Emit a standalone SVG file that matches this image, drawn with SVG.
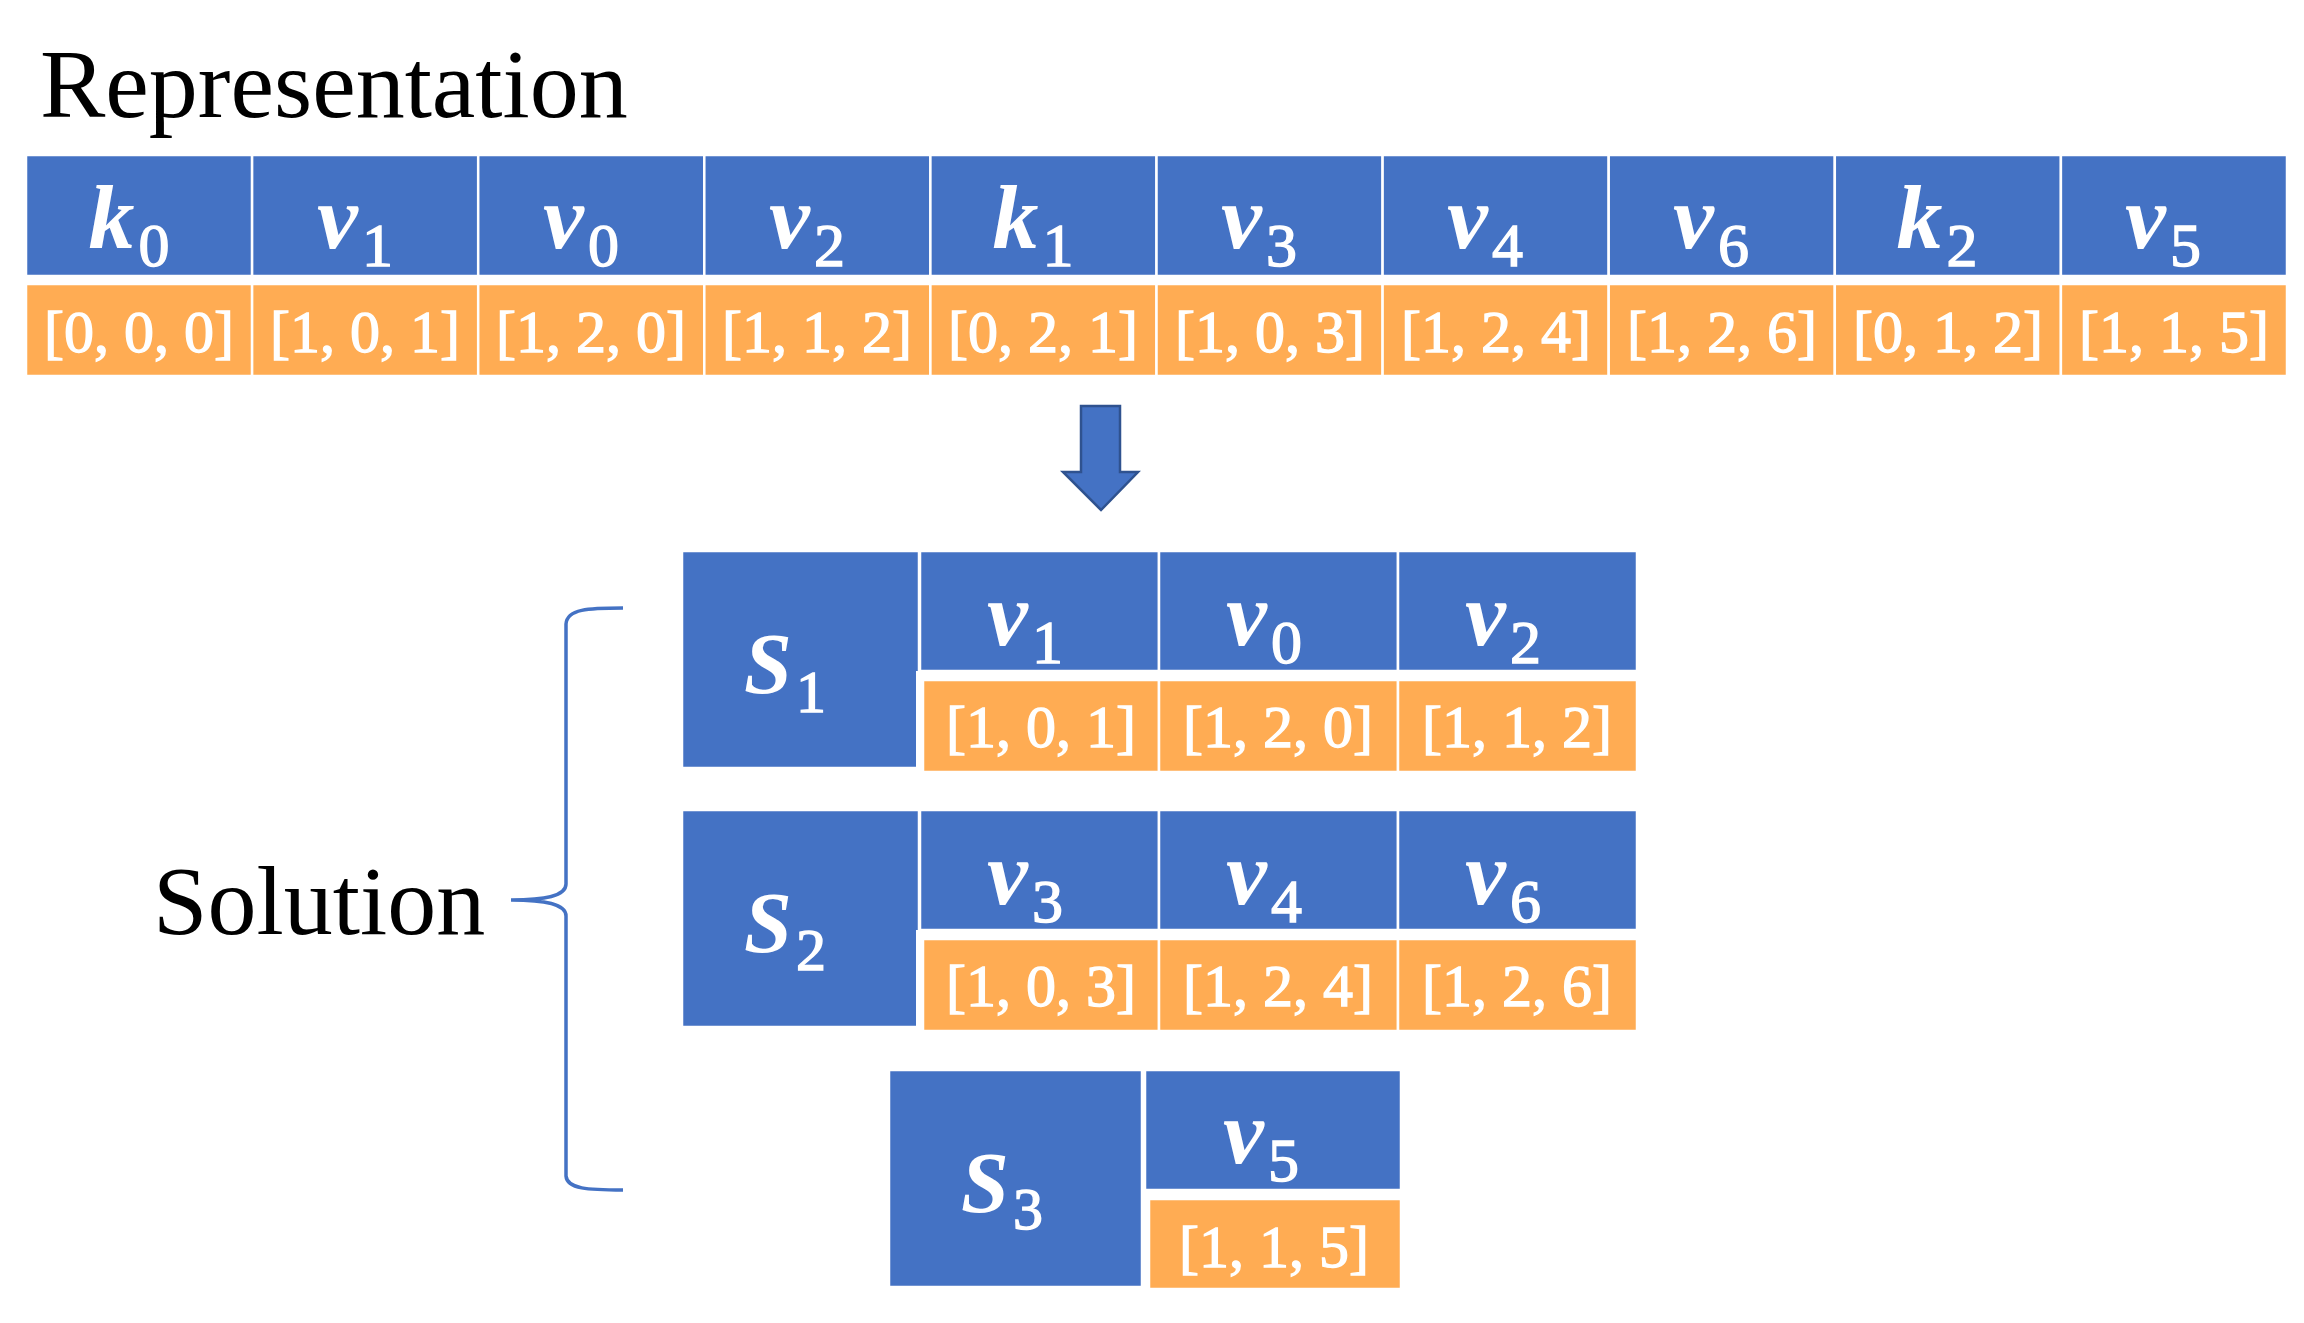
<svg xmlns="http://www.w3.org/2000/svg" width="2304" height="1323" viewBox="0 0 2304 1323">
<style>
.b{fill:#4472C4;stroke:#fff;stroke-width:2.5}
.o{fill:#FFAC53;stroke:#fff;stroke-width:2.5}
.w{fill:#fff}
.m{font-family:"Liberation Serif","Times New Roman",serif;font-style:italic;font-weight:bold;font-size:92px;fill:#fff;text-anchor:middle}
.s{font-family:"Liberation Serif","Times New Roman",serif;font-style:normal;font-weight:normal;font-size:62px;stroke:#fff;stroke-width:1.4}
.ms{font-family:"Liberation Serif","Times New Roman",serif;font-style:italic;font-weight:bold;font-size:86px;fill:#fff;text-anchor:middle}
.ss{font-family:"Liberation Serif","Times New Roman",serif;font-style:normal;font-weight:normal;font-size:60px;stroke:#fff;stroke-width:1.4}
.v{font-family:"Liberation Serif","Times New Roman",serif;font-size:60px;fill:#fff;stroke:#fff;stroke-width:1.3;text-anchor:middle}
.t{font-family:"Liberation Serif","Times New Roman",serif;font-size:98px;fill:#000}
.br{fill:none;stroke:#4472C4;stroke-width:3.5}
.ar{fill:#4472C4;stroke:#2F528F;stroke-width:2.5;stroke-linejoin:miter}
</style>
<rect width="2304" height="1323" fill="#fff"/>
<text id="title" class="t" x="40" y="117">Representation</text>
<text id="solution-label" class="t" x="153" y="934">Solution</text>

<g id="representation">
<g id="rep-0"><rect class="b" x="26" y="155" width="226.1" height="121"/><rect class="o" x="26" y="284" width="226.1" height="92"/><text class="m" x="129" y="248">k<tspan class="s" dx="4" dy="18">0</tspan></text><text class="v" x="139" y="352">[0, 0, 0]</text></g>
<g id="rep-1"><rect class="b" x="252.1" y="155" width="226.1" height="121"/><rect class="o" x="252.1" y="284" width="226.1" height="92"/><text class="m" x="355" y="248">v<tspan class="s" dx="4" dy="18">1</tspan></text><text class="v" x="365" y="352">[1, 0, 1]</text></g>
<g id="rep-2"><rect class="b" x="478.2" y="155" width="226.1" height="121"/><rect class="o" x="478.2" y="284" width="226.1" height="92"/><text class="m" x="581" y="248">v<tspan class="s" dx="4" dy="18">0</tspan></text><text class="v" x="591" y="352">[1, 2, 0]</text></g>
<g id="rep-3"><rect class="b" x="704.3" y="155" width="226.1" height="121"/><rect class="o" x="704.3" y="284" width="226.1" height="92"/><text class="m" x="807" y="248">v<tspan class="s" dx="4" dy="18">2</tspan></text><text class="v" x="817" y="352">[1, 1, 2]</text></g>
<g id="rep-4"><rect class="b" x="930.4" y="155" width="226.1" height="121"/><rect class="o" x="930.4" y="284" width="226.1" height="92"/><text class="m" x="1033" y="248">k<tspan class="s" dx="4" dy="18">1</tspan></text><text class="v" x="1043" y="352">[0, 2, 1]</text></g>
<g id="rep-5"><rect class="b" x="1156.5" y="155" width="226.1" height="121"/><rect class="o" x="1156.5" y="284" width="226.1" height="92"/><text class="m" x="1259" y="248">v<tspan class="s" dx="4" dy="18">3</tspan></text><text class="v" x="1270" y="352">[1, 0, 3]</text></g>
<g id="rep-6"><rect class="b" x="1382.6" y="155" width="226.1" height="121"/><rect class="o" x="1382.6" y="284" width="226.1" height="92"/><text class="m" x="1485" y="248">v<tspan class="s" dx="4" dy="18">4</tspan></text><text class="v" x="1496" y="352">[1, 2, 4]</text></g>
<g id="rep-7"><rect class="b" x="1608.7" y="155" width="226.1" height="121"/><rect class="o" x="1608.7" y="284" width="226.1" height="92"/><text class="m" x="1711" y="248">v<tspan class="s" dx="4" dy="18">6</tspan></text><text class="v" x="1722" y="352">[1, 2, 6]</text></g>
<g id="rep-8"><rect class="b" x="1834.8" y="155" width="226.1" height="121"/><rect class="o" x="1834.8" y="284" width="226.1" height="92"/><text class="m" x="1937" y="248">k<tspan class="s" dx="4" dy="18">2</tspan></text><text class="v" x="1948" y="352">[0, 1, 2]</text></g>
<g id="rep-9"><rect class="b" x="2060.9" y="155" width="226.1" height="121"/><rect class="o" x="2060.9" y="284" width="226.1" height="92"/><text class="m" x="2163" y="248">v<tspan class="s" dx="4" dy="18">5</tspan></text><text class="v" x="2174" y="352">[1, 1, 5]</text></g>
</g>

<g id="connectors">
<path id="down-arrow" class="ar" d="M1081,406 L1120,406 L1120,472 L1138,472 L1101,510 L1063,472 L1081,472 Z"/>
<path id="brace" class="br" d="M623,608 C588,608 567,609 566,624 L566,884 C566,896 545,900 511,900 C545,900 566,904 566,916 L566,1176 C567,1189 588,1190 623,1190"/>
</g>

<g id="s1">
<rect class="b" x="682" y="551" width="237" height="217" stroke="none"/>
<rect class="b" x="920" y="551" width="239" height="120"/><rect class="b" x="1159" y="551" width="239" height="120"/><rect class="b" x="1398" y="551" width="239" height="120"/>
<rect class="w" x="916" y="671" width="721" height="101"/>
<rect class="o" x="923" y="680" width="236" height="92"/><rect class="o" x="1159" y="680" width="239" height="92"/><rect class="o" x="1398" y="680" width="239" height="92"/>
<text class="ms" x="785" y="693">S<tspan class="ss" dx="4" dy="19">1</tspan></text>
<text class="m" x="1025" y="645">v<tspan class="s" dx="4" dy="18">1</tspan></text>
<text class="m" x="1264" y="645">v<tspan class="s" dx="4" dy="18">0</tspan></text>
<text class="m" x="1503" y="645">v<tspan class="s" dx="4" dy="18">2</tspan></text>
<text class="v" x="1041" y="747">[1, 0, 1]</text>
<text class="v" x="1278" y="747">[1, 2, 0]</text>
<text class="v" x="1517" y="747">[1, 1, 2]</text>
</g>

<g id="s2">
<rect class="b" x="682" y="810" width="237" height="217" stroke="none"/>
<rect class="b" x="920" y="810" width="239" height="120"/><rect class="b" x="1159" y="810" width="239" height="120"/><rect class="b" x="1398" y="810" width="239" height="120"/>
<rect class="w" x="916" y="930" width="721" height="101"/>
<rect class="o" x="923" y="939" width="236" height="92"/><rect class="o" x="1159" y="939" width="239" height="92"/><rect class="o" x="1398" y="939" width="239" height="92"/>
<text class="ms" x="785" y="952">S<tspan class="ss" dx="4" dy="18">2</tspan></text>
<text class="m" x="1025" y="904">v<tspan class="s" dx="4" dy="18">3</tspan></text>
<text class="m" x="1264" y="904">v<tspan class="s" dx="4" dy="18">4</tspan></text>
<text class="m" x="1503" y="904">v<tspan class="s" dx="4" dy="18">6</tspan></text>
<text class="v" x="1041" y="1006">[1, 0, 3]</text>
<text class="v" x="1278" y="1006">[1, 2, 4]</text>
<text class="v" x="1517" y="1006">[1, 2, 6]</text>
</g>

<g id="s3">
<rect class="b" x="889" y="1070" width="253" height="217" stroke="none"/>
<rect class="b" x="1145" y="1070" width="256" height="120"/>
<rect class="w" x="1141" y="1190" width="260" height="100"/>
<rect class="o" x="1149" y="1199" width="252" height="90"/>
<text class="ms" x="1002" y="1212">S<tspan class="ss" dx="4" dy="17">3</tspan></text>
<text class="m" x="1261" y="1163">v<tspan class="s" dx="4" dy="18">5</tspan></text>
<text class="v" x="1274" y="1267">[1, 1, 5]</text>
</g>
</svg>
